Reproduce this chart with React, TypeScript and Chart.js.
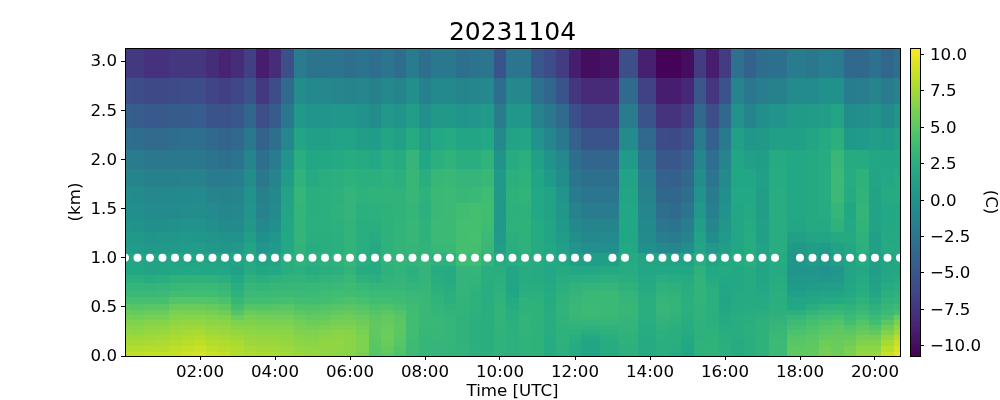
import React, { useEffect, useRef } from "react";
import { Chart, registerables } from "chart.js";

Chart.register(...registerables);

const FONT = "'DejaVu Sans'";
const TITLE = "20231104";
const X_TITLE = "Time [UTC]";
const Y_TITLE = "(km)";
const BAR_TITLE = "(C)";

// observation times, hours UTC (12:40, 13:40 and 17:40 are missing)
const times = [
  0, 1 / 3, 2 / 3, 1, 4 / 3, 5 / 3, 2, 7 / 3, 8 / 3, 3, 10 / 3, 11 / 3, 4, 13 / 3, 14 / 3, 5, 16 / 3, 17 / 3, 6, 19 / 3, 20 / 3,
  7, 22 / 3, 23 / 3, 8, 25 / 3, 26 / 3, 9, 28 / 3, 29 / 3, 10, 31 / 3, 32 / 3, 11, 34 / 3, 35 / 3, 12, 37 / 3,
  13, 40 / 3, 14, 43 / 3, 44 / 3, 15, 46 / 3, 47 / 3, 16, 49 / 3, 50 / 3, 17, 52 / 3,
  18, 55 / 3, 56 / 3, 19, 58 / 3, 59 / 3, 20, 61 / 3, 62 / 3,
];

// altitude boundaries of the cells, km, top to bottom
const heightEdges = [
  3.133, 2.828, 2.564, 2.319, 2.096, 1.902, 1.719, 1.556, 1.394, 1.261, 1.150, 1.048, 0.916, 0.824,
  0.743, 0.661, 0.600, 0.529, 0.468, 0.417, 0.366, 0.315, 0.264, 0.214, 0.163, 0.102, 0.041, 0,
];

const xTicks = [2, 4, 6, 8, 10, 12, 14, 16, 18, 20];
const yTicks = [0, 0.5, 1, 1.5, 2, 2.5, 3];
const barTicks = [-10, -7.5, -5, -2.5, 0, 2.5, 5, 7.5, 10];
const MARKER_HEIGHT = 1.0;
const VMIN = -10.7;
const VMAX = 10.45;

// temperature, C: one line per time, top cell to bottom cell
const temperature = [
  [-7.2,-5.6,-4.3,-3.0,-1.9,-1.1,-0.5,-0.2,0.2,0.6,0.9,1.7,1.9,2.6,3.2,3.5,4.2,4.9,5.5,6.0,6.4,6.8,7.0,7.4,7.6,8.0,8.4],
  [-7.2,-5.8,-4.5,-3.2,-2.0,-1.2,-0.6,-0.3,0.1,0.5,0.8,1.6,1.9,2.6,3.2,3.5,4.2,4.7,5.4,5.9,6.3,6.7,6.9,7.3,7.6,8.0,8.4],
  [-7.7,-6.0,-4.8,-3.3,-2.3,-1.5,-0.9,-0.7,-0.3,0.2,0.6,1.4,1.5,2.3,3.1,3.5,4.2,4.9,5.5,6.1,6.6,6.9,7.1,7.4,7.7,8.1,8.5],
  [-7.7,-6.0,-4.8,-3.3,-2.3,-1.5,-0.9,-0.7,-0.2,0.3,0.6,1.5,1.7,2.5,3.2,3.6,4.2,4.9,5.5,6.1,6.6,6.9,7.2,7.5,7.8,8.1,8.5],
  [-7.4,-5.9,-4.6,-3.2,-2.2,-1.5,-0.8,-0.6,-0.1,0.4,0.8,1.6,1.9,2.8,3.4,3.9,4.7,5.5,6.2,6.5,6.9,7.2,7.5,7.7,8.0,8.3,8.6],
  [-7.3,-5.8,-4.6,-3.1,-2.2,-1.4,-0.8,-0.5,0.0,0.5,0.9,1.7,2.0,2.8,3.5,3.9,4.7,5.5,6.2,6.6,7.0,7.3,7.6,7.9,8.2,8.5,9.0],
  [-7.3,-5.8,-4.5,-3.1,-2.2,-1.3,-0.7,-0.5,0.0,0.4,0.9,1.8,2.0,2.9,3.6,3.9,4.7,5.5,6.2,6.6,7.0,7.4,7.7,8.0,8.4,8.8,9.2],
  [-8.0,-6.4,-5.2,-3.6,-2.7,-1.9,-1.2,-0.7,-0.3,0.2,0.6,1.6,1.9,2.8,3.5,3.9,4.6,5.4,6.0,6.5,6.8,7.1,7.4,7.7,8.0,8.3,8.7],
  [-8.7,-6.8,-5.4,-3.9,-2.9,-2.0,-1.4,-1.0,-0.6,0.0,0.4,1.5,1.8,2.6,3.3,3.7,4.3,5.1,5.8,6.4,6.7,7.0,7.3,7.6,7.9,8.1,8.5],
  [-8.0,-6.2,-5.0,-3.6,-2.6,-1.8,-1.2,-0.9,-0.6,0.0,0.5,1.6,1.3,2.0,2.5,2.8,3.3,3.9,4.7,5.6,6.3,6.7,7.1,7.4,7.7,7.9,8.0],
  [-6.8,-5.2,-3.7,-2.2,-1.2,-0.5,0.0,0.2,0.4,1.1,1.6,2.1,2.2,2.8,3.3,3.6,3.9,4.7,5.5,6.1,6.4,6.6,6.9,7.1,7.3,7.6,7.8],
  [-9.0,-7.2,-5.7,-4.0,-2.9,-2.2,-1.5,-1.4,-0.8,-0.2,0.3,1.5,1.9,2.6,3.1,3.6,3.9,4.6,5.4,5.9,6.2,6.5,6.8,7.0,7.2,7.5,7.7],
  [-8.0,-5.8,-4.6,-3.0,-1.9,-1.2,-0.8,-0.6,-0.2,0.3,0.8,1.6,2.0,2.8,3.3,3.6,4.0,4.7,5.4,5.9,6.2,6.5,6.8,7.0,7.2,7.4,7.6],
  [-5.6,-3.3,-2.2,-1.0,0.2,0.9,1.4,1.6,1.8,2.0,2.0,2.5,2.5,2.9,3.3,3.7,4.2,4.9,5.4,5.9,6.2,6.5,6.7,6.9,7.1,7.3,7.5],
  [-2.0,-0.5,0.6,1.6,2.5,2.9,3.2,3.1,3.1,3.1,2.9,2.8,2.6,3.0,3.3,3.6,3.9,4.5,5.0,5.5,5.9,6.1,6.4,6.6,6.8,7.0,7.2],
  [-2.6,-0.9,0.2,1.2,1.9,2.2,2.5,2.5,2.6,2.5,2.3,2.6,2.3,2.8,3.35,3.6,3.9,4.5,4.9,5.3,5.7,6.0,6.3,6.5,6.7,6.9,7.0],
  [-2.6,-0.9,0.2,1.2,2.0,2.5,2.6,2.6,2.6,2.5,2.5,2.7,2.5,3.0,3.4,3.8,4.0,4.6,5.0,5.4,5.8,6.2,6.5,6.7,6.9,6.9,6.9],
  [-2.7,-1.0,0.3,1.4,2.1,2.6,2.7,2.8,2.7,2.6,2.6,2.8,2.6,3.1,3.5,3.9,4.2,4.7,5.3,5.7,6.0,6.4,6.7,6.8,6.9,6.9,6.8],
  [-3.0,-1.2,0.3,1.5,2.3,2.8,3.1,3.1,3.0,3.0,3.0,3.2,3.0,3.35,3.7,3.9,4.5,4.9,5.4,5.8,6.1,6.3,6.6,6.7,6.7,6.7,6.6],
  [-2.7,-1.0,0.0,1.1,2.2,2.6,2.8,2.6,2.5,2.5,2.5,2.5,2.3,2.8,3.35,3.8,4.2,4.7,5.1,5.5,5.8,6.0,6.2,6.3,6.3,6.3,6.1],
  [-3.1,-1.5,-0.5,0.9,2.0,2.6,2.9,2.7,2.5,2.3,2.1,2.3,2.2,2.6,3.2,3.6,3.9,4.3,4.7,5.0,5.2,5.3,5.2,5.1,5.0,4.9,4.8],
  [-2.4,-0.8,0.5,1.7,2.5,2.8,2.9,2.8,2.8,2.8,2.8,2.9,2.8,3.0,3.2,3.6,3.9,4.5,5.0,5.3,5.4,5.5,5.6,5.6,5.5,5.3,5.1],
  [-3.2,-1.2,0.2,1.3,2.2,2.6,2.9,2.9,3.0,3.0,3.0,3.1,3.0,3.1,3.3,3.6,3.8,4.2,4.6,4.9,5.0,5.1,5.0,4.9,4.8,4.6,4.4],
  [-2.0,-0.3,1.0,2.2,3.2,3.3,3.3,3.2,3.3,3.3,3.2,3.0,2.6,2.8,3.1,3.35,3.6,3.8,3.9,3.9,3.9,3.9,3.9,3.8,3.7,3.7,3.6],
  [-3.0,-1.5,-0.2,1.0,1.9,2.5,2.8,2.7,2.8,2.8,3.0,3.2,3.1,3.1,3.2,3.3,3.35,3.4,3.4,3.35,3.35,3.3,3.3,3.2,3.2,3.2,3.2],
  [-2.2,-0.8,0.6,2.0,2.6,3.3,3.5,3.5,3.6,3.6,3.35,2.8,2.3,2.4,2.6,2.8,3.0,3.1,3.2,3.3,3.35,3.35,3.3,3.3,3.2,3.2,3.2],
  [-2.2,-0.8,0.6,2.2,2.9,3.35,3.6,3.6,3.6,3.6,3.5,2.8,2.2,2.2,2.4,2.5,2.6,2.8,3.0,3.1,3.2,3.2,3.2,3.2,3.2,3.1,3.1],
  [-2.9,-1.1,0.2,1.65,2.5,3.2,3.4,3.9,4.1,4.1,4.1,3.8,3.1,3.1,3.1,3.1,3.0,3.0,3.0,2.9,2.9,2.9,2.9,2.9,2.9,3.0,3.0],
  [-2.7,-1.0,0.3,1.7,2.5,3.2,3.5,4.1,4.1,4.2,4.1,3.8,3.2,3.1,2.9,2.8,2.8,2.8,2.7,2.7,2.6,2.6,2.6,2.6,2.6,2.7,2.7],
  [-2.5,-0.8,0.8,2.0,2.9,3.35,3.8,3.9,3.8,3.6,3.35,3.0,2.5,2.5,2.4,2.4,2.5,2.5,2.5,2.5,2.5,2.5,2.5,2.5,2.5,2.5,2.6],
  [-5.3,-3.2,-2.0,-0.9,0.1,0.6,0.6,0.6,0.6,0.7,1.0,2.2,2.5,2.6,2.7,2.8,2.9,3.0,3.0,3.0,3.0,3.0,2.9,2.9,2.9,2.9,2.9],
  [-2.4,-0.9,0.3,1.5,2.3,2.6,2.8,2.7,2.8,2.6,2.5,2.4,1.8,1.7,1.7,1.9,2.2,2.3,2.5,2.5,2.6,2.7,2.7,2.7,2.7,2.7,2.7],
  [-2.4,-0.9,0.4,1.65,2.6,2.8,3.0,2.8,2.8,2.8,2.8,2.5,2.3,2.3,2.4,2.5,2.8,2.8,2.9,3.0,3.0,3.0,3.0,2.9,2.9,2.9,2.9],
  [-5.0,-2.8,-1.4,0.0,1.2,1.7,2.0,2.0,2.2,2.2,2.2,2.2,2.2,2.2,2.4,2.5,2.7,2.8,2.8,2.8,2.8,2.8,2.8,2.8,2.8,2.8,2.8],
  [-5.8,-3.7,-2.2,-1.0,0.0,0.8,1.4,1.5,1.65,1.7,1.9,2.1,2.0,2.0,2.1,2.2,2.2,2.3,2.4,2.4,2.4,2.4,2.4,2.3,2.3,2.3,2.3],
  [-7.0,-5.2,-3.4,-2.2,-0.9,-0.4,0.2,0.4,0.6,0.9,1.3,1.9,2.2,2.4,2.6,2.8,2.9,3.0,3.0,2.9,2.9,2.8,2.8,2.8,2.8,2.7,2.7],
  [-9.0,-7.4,-5.5,-4.1,-3.0,-2.5,-1.9,-1.4,-0.8,-0.2,0.2,1.1,2.0,2.5,2.9,3.1,3.3,3.35,3.35,3.3,3.1,2.9,2.7,2.5,2.3,2.2,2.2],
  [-10.0,-8.2,-6.6,-5.2,-3.8,-2.9,-2.5,-2.0,-1.2,-0.8,-0.3,1.0,2.0,2.6,3.1,3.4,3.5,3.6,3.6,3.35,3.1,2.8,2.4,2.0,1.8,1.7,1.7],
  [-9.7,-8.2,-6.6,-5.2,-3.8,-2.9,-2.5,-2.0,-1.1,-0.7,-0.2,1.1,2.1,2.7,3.2,3.5,3.5,3.5,3.5,3.35,3.2,2.9,2.7,2.5,2.3,2.3,2.3],
  [-5.6,-3.3,-1.9,-0.6,0.8,1.4,1.7,1.8,1.9,1.9,2.0,2.2,2.3,2.5,2.8,3.1,3.2,3.3,3.3,3.2,3.1,3.1,2.9,2.8,2.8,2.7,2.7],
  [-8.8,-6.6,-5.2,-3.6,-2.4,-1.8,-1.4,-1.0,-0.8,-0.6,-0.2,1.65,1.8,2.0,2.2,2.4,2.5,2.5,2.5,2.5,2.4,2.3,2.3,2.2,2.2,2.2,2.2],
  [-10.6,-9.0,-7.6,-5.9,-5.0,-4.2,-3.7,-3.0,-2.5,-1.8,-0.8,1.6,2.0,2.5,2.8,3.0,3.2,3.3,3.2,3.1,2.9,2.8,2.6,2.6,2.5,2.5,2.5],
  [-10.6,-9.0,-7.6,-6.0,-5.0,-4.3,-3.8,-3.3,-2.6,-2.0,-1.0,1.5,2.0,2.3,2.7,2.9,3.1,3.1,3.0,2.9,2.8,2.6,2.5,2.5,2.5,2.4,2.3],
  [-10.0,-8.4,-6.8,-5.2,-4.2,-3.5,-3.0,-2.5,-1.8,-1.2,-0.4,1.4,1.9,2.2,2.4,2.5,2.6,2.7,2.6,2.5,2.4,2.3,2.2,2.1,2.0,1.8,1.7],
  [-7.0,-5.0,-3.5,-2.0,-1.0,-0.5,0.0,0.5,1.0,1.4,1.7,2.4,2.8,3.0,3.0,3.0,3.0,2.9,2.9,2.9,2.8,2.8,2.8,2.7,2.8,2.8,2.8],
  [-9.0,-7.4,-5.7,-4.2,-3.1,-2.5,-2.0,-1.6,-1.0,-0.4,0.5,1.7,2.0,2.2,2.5,2.6,2.6,2.6,2.6,2.6,2.6,2.7,2.8,2.8,2.8,2.9,2.9],
  [-7.0,-5.2,-3.5,-2.1,-1.2,-0.6,-0.2,0.0,0.4,0.8,1.1,2.0,2.2,2.0,1.8,1.8,1.7,1.9,2.0,2.2,2.2,2.3,2.4,2.5,2.5,2.6,2.6],
  [-2.8,-1.2,0.0,1.2,1.7,1.9,2.0,1.9,1.8,1.8,1.9,2.2,2.0,2.0,2.0,2.1,2.2,2.2,2.3,2.4,2.4,2.4,2.4,2.4,2.3,2.3,2.3],
  [-4.0,-2.3,-1.2,0.3,1.2,1.8,2.0,2.1,2.2,2.3,2.3,2.5,2.2,2.2,2.2,2.2,2.2,2.3,2.4,2.5,2.5,2.6,2.6,2.5,2.5,2.5,2.5],
  [-3.2,-1.8,-0.3,0.6,1.1,1.3,1.1,1.0,1.2,1.3,1.5,1.7,1.6,1.7,1.9,2.0,2.2,2.3,2.5,2.7,2.8,2.8,2.8,2.8,2.8,2.8,2.8],
  [-2.9,-1.5,0.2,1.3,2.2,2.3,2.4,2.4,2.4,2.4,2.4,2.3,2.2,2.3,2.4,2.5,2.5,2.6,2.7,2.9,3.1,3.3,3.4,3.5,3.6,3.6,3.6],
  [-2.0,-0.6,0.7,1.3,2.0,2.0,2.0,2.0,1.8,1.3,0.6,0.4,0.2,0.4,0.8,1.2,1.6,2.0,2.6,3.3,3.7,4.1,4.4,4.7,4.9,5.1,5.2],
  [-2.2,-0.7,0.9,1.65,2.1,2.1,2.1,2.1,2.1,1.65,1.1,0.9,0.2,0.5,0.9,1.5,1.9,2.4,3.1,3.8,4.2,4.5,4.7,4.9,5.1,5.2,5.3],
  [-1.8,-0.1,1.0,2.2,2.3,2.3,2.3,2.3,2.1,1.6,0.8,0.5,0.0,0.3,1.0,1.7,2.1,2.8,3.4,4.0,4.4,4.9,5.1,5.4,5.7,5.9,6.0],
  [-1.9,-0.1,1.6,2.6,3.4,3.6,3.6,3.2,2.8,2.1,1.4,1.0,0.3,0.5,1.1,1.7,2.2,2.9,3.5,4.2,4.6,5.0,5.2,5.4,5.5,5.6,5.6],
  [-3.5,-1.9,-0.5,0.6,2.2,2.3,2.2,1.9,2.0,2.1,1.9,1.65,1.6,1.65,1.8,2.0,2.4,2.8,3.2,3.6,4.0,4.6,5.0,5.4,5.8,6.1,6.2],
  [-3.5,-1.8,-0.3,0.8,2.2,2.8,2.9,3.1,3.0,2.8,2.7,2.2,2.0,2.2,2.3,2.5,2.8,3.2,3.6,4.2,4.7,5.1,5.5,6.0,6.4,6.8,7.0],
  [-2.8,-1.2,0.1,1.0,1.9,1.65,1.5,1.4,1.4,1.3,1.3,1.2,1.0,1.2,1.5,1.8,2.2,2.7,3.1,3.6,4.0,4.7,5.3,5.9,6.4,6.8,7.1],
  [-3.8,-1.9,-0.6,0.7,1.65,2.0,2.2,2.0,2.0,2.1,2.2,1.7,1.9,2.0,2.3,2.6,2.9,3.3,3.6,4.2,5.0,5.8,6.4,7.0,7.6,8.2,8.8],
  [-3.0,-1.3,0.2,1.3,1.9,2.2,2.2,2.0,2.1,2.0,2.1,2.1,1.9,2.2,2.5,2.8,3.1,3.6,4.2,5.5,6.2,6.9,7.5,8.1,8.7,9.2,9.6],
];

const viridisStops = ["#440154", "#482475", "#414487", "#355f8d", "#2a788e", "#21918c", "#22a884", "#44bf70", "#7ad151", "#bddf26", "#fde725"];

const X_MAX = times[times.length - 1];
const Y_MAX = heightEdges[0];

function hexToRgb(h: string) {
  return [parseInt(h.slice(1, 3), 16), parseInt(h.slice(3, 5), 16), parseInt(h.slice(5, 7), 16)];
}
function viridis(v: number) {
  const t = Math.max(0, Math.min(1, (v - VMIN) / (VMAX - VMIN))) * (viridisStops.length - 1);
  const i = Math.min(viridisStops.length - 2, Math.floor(t));
  const a = hexToRgb(viridisStops[i]);
  const b = hexToRgb(viridisStops[i + 1]);
  const f = t - i;
  return `rgb(${a.map((c, k) => Math.round(c + (b[k] - c) * f)).join(",")})`;
}

// each cell reaches half way to the neighbouring observation time
const cells: any[] = [];
times.forEach((t, i) => {
  const t0 = i === 0 ? 0 : (times[i - 1] + t) / 2;
  const t1 = i === times.length - 1 ? X_MAX : (t + times[i + 1]) / 2;
  temperature[i].forEach((v, r) => {
    cells.push({ x: t, y: (heightEdges[r] + heightEdges[r + 1]) / 2, x0: t0, x1: t1, y0: heightEdges[r + 1], y1: heightEdges[r], v });
  });
});

const barCells: any[] = [];
for (let k = 0; k < 256; k++) {
  const y0 = VMIN + ((VMAX - VMIN) * k) / 256;
  const y1 = VMIN + ((VMAX - VMIN) * (k + 1)) / 256;
  barCells.push({ x: 0.5, y: (y0 + y1) / 2, x0: 0, x1: 1, y0, y1, v: (y0 + y1) / 2 });
}

const heatPlugin = {
  id: "heatCells",
  beforeDatasetsDraw(chart: any) {
    const { ctx, scales } = chart;
    const yScale = scales.y;
    const xScale = scales.x;
    ctx.save();
    for (const ds of chart.data.datasets) {
      if (!ds.isCells) continue;
      for (const c of ds.data) {
        const l = Math.round(xScale.getPixelForValue(c.x0));
        const r = Math.round(xScale.getPixelForValue(c.x1));
        const t = Math.round(yScale.getPixelForValue(c.y1));
        const b = Math.round(yScale.getPixelForValue(c.y0));
        ctx.fillStyle = viridis(c.v);
        ctx.fillRect(l, t, r - l, b - t);
      }
    }
    ctx.restore();
  },
  afterDatasetsDraw(chart: any) {
    const { ctx, chartArea: a } = chart;
    ctx.save();
    ctx.strokeStyle = "#000";
    ctx.lineWidth = 1;
    ctx.strokeRect(Math.round(a.left) + 0.5, Math.round(a.top) + 0.5, Math.round(a.right - a.left), Math.round(a.bottom - a.top));
    ctx.restore();
  },
};

const tickGrid = { display: true, drawOnChartArea: false, drawTicks: true, tickLength: 4, tickColor: "#000", tickWidth: 1 };
const tickFont = { family: FONT, size: 16.67 };

function hhmm(v: number) {
  return `${String(v).padStart(2, "0")}:00`;
}

export default function App() {
  const mainRef = useRef<HTMLCanvasElement>(null);
  const barRef = useRef<HTMLCanvasElement>(null);
  useEffect(() => {
    document.body.style.margin = "0";
    const main = new Chart(mainRef.current!, {
      type: "scatter",
      plugins: [heatPlugin],
      data: {
        datasets: [
          { label: "dots", data: times.map((t) => ({ x: t, y: MARKER_HEIGHT })), pointRadius: 4, pointBackgroundColor: "#fff", pointBorderWidth: 0, pointHoverRadius: 4, order: 0 } as any,
          { label: "temperature", isCells: true, data: cells, pointRadius: 0, pointHitRadius: 0, order: 1 } as any,
        ],
      },
      options: {
        responsive: false,
        animation: false,
        events: [],
        layout: { padding: { top: 0, left: 0, right: 100, bottom: 0 } },
        plugins: {
          legend: { display: false },
          tooltip: { enabled: false },
          title: {
            display: true,
            text: TITLE,
            color: "#000",
            fullSize: false,
            font: { family: FONT, size: 25, weight: "normal", lineHeight: 1.2 },
            padding: { top: 18, bottom: 0 },
          } as any,
        },
        scales: {
          x: {
            type: "linear",
            min: 0,
            max: X_MAX,
            border: { display: false },
            grid: tickGrid,
            afterBuildTicks: (s: any) => { s.ticks = xTicks.map((value) => ({ value })); },
            afterFit: (s: any) => { s.height = 44; },
            ticks: { color: "#000", font: tickFont, padding: 3, maxRotation: 0, autoSkip: false, callback: (v: any) => hhmm(v) },
            title: { display: true, text: X_TITLE, color: "#000", font: { family: FONT, size: 16.67, lineHeight: 1 }, padding: 0 },
          },
          y: {
            type: "linear",
            min: 0,
            max: Y_MAX,
            border: { display: false },
            grid: tickGrid,
            afterBuildTicks: (s: any) => { s.ticks = yTicks.map((value) => ({ value })); },
            afterFit: (s: any) => { s.width = 125; },
            ticks: { color: "#000", font: tickFont, padding: 4, labelOffset: 1, autoSkip: false, callback: (v: any) => Number(v).toFixed(1) },
            title: { display: true, text: Y_TITLE, color: "#000", font: { family: FONT, size: 16.67, lineHeight: 1.2 }, padding: { top: 66, bottom: 0 } },
          },
        },
      },
    });
    const bar = new Chart(barRef.current!, {
      type: "scatter",
      plugins: [heatPlugin],
      data: { datasets: [{ label: "scale", isCells: true, data: barCells, pointRadius: 0, pointHitRadius: 0 } as any] },
      options: {
        responsive: false,
        animation: false,
        events: [],
        layout: { padding: { top: 48, left: 5, right: 0, bottom: 44 } },
        plugins: { legend: { display: false }, tooltip: { enabled: false } },
        scales: {
          x: { type: "linear", display: false, min: 0, max: 1 },
          y: {
            type: "linear",
            position: "right",
            min: VMIN,
            max: VMAX,
            border: { display: false },
            grid: tickGrid,
            afterBuildTicks: (s: any) => { s.ticks = barTicks.map((value) => ({ value })); },
            afterFit: (s: any) => { s.width = 80; },
            ticks: { color: "#000", font: tickFont, padding: 6, labelOffset: 1, autoSkip: false, callback: (v: any) => Number(v).toFixed(1).replace("-", "\u2212") },
            title: { display: true, text: BAR_TITLE, color: "#000", font: { family: FONT, size: 16.67, lineHeight: 1.2 }, padding: 0 },
          },
        },
      },
    });
    return () => {
      main.destroy();
      bar.destroy();
    };
  }, []);
  return (
    <div style={{ position: "relative", width: 1000, height: 400, background: "#fff" }}>
      <canvas ref={mainRef} width={1000} height={400} style={{ position: "absolute", left: 0, top: 0, display: "block" }} />
      <canvas ref={barRef} width={95} height={400} style={{ position: "absolute", left: 905, top: 0, display: "block" }} />
    </div>
  );
}
